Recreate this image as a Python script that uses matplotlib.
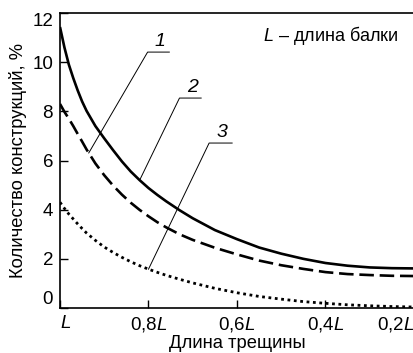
import numpy as np
import matplotlib
matplotlib.use("Agg")
import matplotlib.pyplot as plt

plt.rcParams["font.family"] = ["Liberation Sans", "DejaVu Sans"]
plt.rcParams["mathtext.fontset"] = "custom"
plt.rcParams["mathtext.it"] = "Liberation Sans:italic"
plt.rcParams["mathtext.rm"] = "Liberation Sans"

# Crack length as a fraction of beam length L
crack_len = [1.0, 0.99, 0.98, 0.97, 0.96, 0.95, 0.94, 0.92, 0.9, 0.88,
             0.86, 0.84, 0.82, 0.8, 0.78, 0.76, 0.73, 0.7, 0.65, 0.6,
             0.55, 0.5, 0.45, 0.4, 0.35, 0.3, 0.25, 0.2]
# Share of structures, %
curve_solid = [11.43, 10.6, 9.9, 9.35, 8.85, 8.4, 8.02, 7.4, 6.9, 6.42,
               5.96, 5.55, 5.2, 4.88, 4.6, 4.34, 3.98, 3.65, 3.17, 2.8,
               2.46, 2.21, 2.0, 1.83, 1.72, 1.65, 1.62, 1.61]
curve_dashed = [8.3, 7.98, 7.7, 7.4, 7.08, 6.77, 6.45, 5.88, 5.4, 4.98,
                4.61, 4.28, 3.99, 3.73, 3.49, 3.28, 3.0, 2.77, 2.45, 2.18,
                1.93, 1.74, 1.59, 1.46, 1.38, 1.34, 1.31, 1.3]
curve_dotted = [4.3, 4.05, 3.82, 3.62, 3.42, 3.23, 3.05, 2.75, 2.48, 2.26,
                2.06, 1.88, 1.72, 1.58, 1.45, 1.33, 1.17, 1.02, 0.8, 0.62,
                0.47, 0.36, 0.26, 0.19, 0.13, 0.09, 0.06, 0.04]

x_ticks = [1.0, 0.8, 0.6, 0.4, 0.2]
x_ticklabels = ["$L$", "0,8$L$", "0,6$L$", "0,4$L$", "0,2$L$"]
y_ticks = [0, 2, 4, 6, 8, 10, 12]

fig = plt.figure(figsize=(4.14, 3.53), dpi=100)
ax = fig.add_axes([60 / 414, 45 / 353, 354 / 414, 295 / 353])

ax.plot(crack_len, curve_solid, color="black", lw=1.9, solid_capstyle="butt")
ax.plot(crack_len, curve_dashed, color="black", lw=1.9, linestyle=(0, (5.5, 2.2)))
ax.plot(crack_len, curve_dotted, color="black", lw=2.0, linestyle=(0, (1, 1.3)))

ax.set_xlim(1.0, 0.2)
ax.set_ylim(0, 12)
ax.set_xticks(x_ticks)
ax.set_xticklabels(x_ticklabels)
ax.set_yticks(y_ticks)
ax.tick_params(direction="in", length=6, width=1, labelsize=13.5, pad=5)
xl = ax.get_xticklabels()
xl[0].set_ha("left")
xl[-1].set_ha("right")
yl = ax.get_yticklabels()
yl[0].set_va("bottom")
yl[-1].set_va("top")

for s in ["left", "bottom", "top"]:
    ax.spines[s].set_linewidth(1.2)
ax.spines["right"].set_visible(False)

ax.set_xlabel("Длина трещины", fontsize=13.2, labelpad=1)
ax.set_ylabel("Количество конструкций, %", fontsize=13.2, labelpad=4)

ax.text(0.765, 0.925, "$L$ – длина балки", transform=ax.transAxes,
        ha="center", va="center", fontsize=13)

# leader lines with curve numbers
leaders = [("1", curve_dashed, 0.935, 0.802, 0.753, 10.41),
           ("2", curve_solid, 0.82, 0.730, 0.681, 8.54),
           ("3", curve_dotted, 0.80, 0.663, 0.611, 6.71)]
for label, curve, x_on, x0, x1, y_h in leaders:
    y_on = np.interp(x_on, crack_len[::-1], curve[::-1])
    ax.plot([x_on, x0, x1], [y_on, y_h, y_h], color="black", lw=0.7)
    ax.text((x0 + x1) / 2 - 0.004, y_h + 0.1, label, ha="center",
            va="bottom", fontsize=14, style="italic")

fig.savefig("out.png", dpi=100)
